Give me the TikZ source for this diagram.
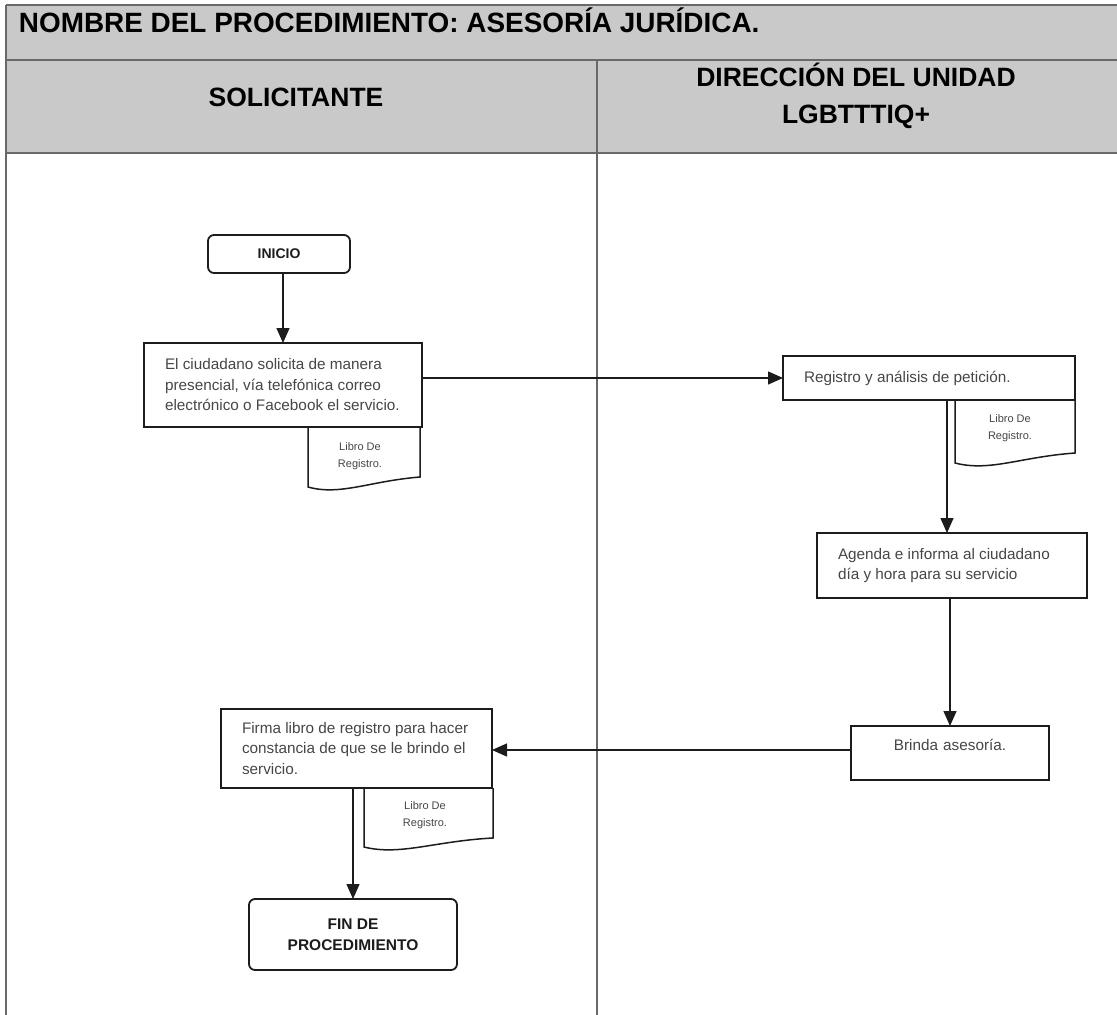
\documentclass[tikz,border=0pt]{standalone}
\usepackage{fontspec}
\setmainfont{Liberation Sans}
\usetikzlibrary{arrows.meta}
\definecolor{bandgray}{RGB}{201,201,201}
\definecolor{rulegray}{RGB}{105,105,105}
\definecolor{ink}{RGB}{28,28,28}
\definecolor{softink}{RGB}{70,70,70}

% left-indented, ragged-right text block of a given width
\newcommand{\lanetext}[2]{\parbox{#1}{\raggedright\leftskip=21pt\relax #2}}

\begin{document}
\begin{tikzpicture}[x=1pt,y=-1pt,
  every node/.style={inner sep=0pt, outer sep=0pt},
  frameline/.style={draw=rulegray, line width=1.5pt},
  headtext/.style={font=\bfseries\fontsize{26.5}{37}\selectfont, align=center, text=black},
  procbox/.style={draw=ink, line width=1.8pt, anchor=north west,
    font=\fontsize{15.3}{20.5}\selectfont, text=softink},
  termbox/.style={draw=ink, line width=1.8pt, rounded corners=6pt, anchor=north west,
    align=center, text=ink},
  doctext/.style={font=\fontsize{11}{16.5}\selectfont, align=center, text=softink},
  docline/.style={draw=ink, line width=1.5pt},
  flow/.style={draw=ink, line width=1.4pt, -{Triangle[length=15pt,width=13pt]}},
]
\useasboundingbox (0,0) rectangle (1117,1015);

% title band and lane headers
\fill[bandgray] (6,5) rectangle (1117,153);
\draw[frameline] (6,5) -- (1117,5);
\draw[frameline] (6,60) -- (1117,60);
\draw[frameline] (6,153) -- (1117,153);
\draw[frameline] (6,5) -- (6,1015);
\draw[frameline] (597,60) -- (597,1015);

\node[anchor=base west, font=\bfseries\fontsize{27.9}{30}\selectfont] (titulo) at (19,32)
  {NOMBRE DEL PROCEDIMIENTO: ASESORÍA JURÍDICA.};
\node[headtext] (carril1) at (296,97) {SOLICITANTE};
\node[headtext] (carril2) at (856,96) {DIRECCIÓN DEL UNIDAD\\LGBTTTIQ+};

% terminals
\node[termbox, minimum width=142pt, minimum height=38pt,
  font=\bfseries\fontsize{14}{20}\selectfont] (inicio) at (208,235) {INICIO};
\node[termbox, minimum width=208pt, minimum height=71pt,
  font=\bfseries\fontsize{15.5}{21}\selectfont] (fin) at (249,899)
  {FIN DE\\PROCEDIMIENTO};

% process boxes
\node[procbox, minimum height=84pt] (b1) at (144,343)
  {\lanetext{278pt}{El ciudadano solicita de manera\\presencial, vía telefónica correo\\electrónico o Facebook el servicio.}};
\node[procbox, minimum height=44pt] (b2) at (783,356)
  {\lanetext{292pt}{Registro y análisis de petición.}};
\node[procbox, minimum height=65pt] (b3) at (817,533)
  {\lanetext{270pt}{Agenda e informa al ciudadano\\día y hora para su servicio}};
\node[procbox, text width=198pt, align=center, minimum height=54pt,
  text height=11pt, text depth=16pt] (b4) at (851,726) {Brinda asesoría.};
\node[procbox, minimum height=79pt] (b5) at (221,709)
  {\lanetext{271pt}{Firma libro de registro para hacer\\constancia de que se le brindo el\\servicio.}};

% document symbols
\draw[docline] (308,427) -- (308,487) .. controls (340,496) and (370,481) .. (420,477) -- (420,427);
\node[doctext] (d1) at (360,456) {Libro De\\Registro.};
\draw[docline] (955,400) -- (955,463) .. controls (990,472) and (1020,457) .. (1075,453) -- (1075,400);
\node[doctext] (d2) at (1010,428) {Libro De\\Registro.};
\draw[docline] (364,788) -- (364,847) .. controls (400,856) and (435,841) .. (493,838) -- (493,788);
\node[doctext] (d3) at (425,815) {Libro De\\Registro.};

% flow
\draw[flow] (inicio.south -| b1.north) -- (b1.north);
\draw[flow] (b1.east |- b2.west) -- (b2.west);
\draw[flow] ([xshift=-5pt]b3.north |- b2.south) -- ([xshift=-5pt]b3.north);
\draw[flow] (b3.south -| b4.north) -- (b4.north);
\draw[flow] ([yshift=3pt]b4.west) -- ([yshift=3pt]b4.west -| b5.east);
\draw[flow] (b5.south -| fin.north) -- (fin.north);
\end{tikzpicture}
\end{document}
